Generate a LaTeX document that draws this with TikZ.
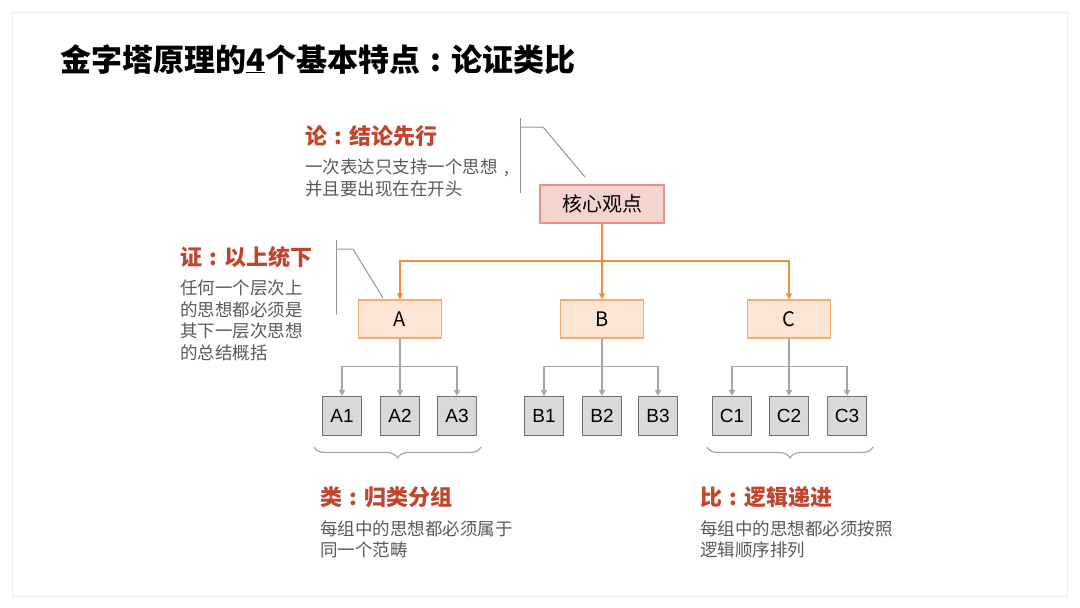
\documentclass[tikz,border=0pt]{standalone}
\usepackage{fontspec}
\setmainfont{Liberation Sans}
\newfontfamily\cjk{Noto Sans CJK SC}
\usetikzlibrary{positioning, arrows.meta, decorations.pathreplacing}
\definecolor{colorHead}{HTML}{C0452C}
\definecolor{colorBody}{HTML}{595959}
\definecolor{colorCoreFill}{HTML}{F5D4CF}
\definecolor{colorCoreLine}{HTML}{E8908A}
\definecolor{colorMidFill}{HTML}{FDE5D5}
\definecolor{colorMidLine}{HTML}{F8A96C}
\definecolor{colorOrange}{HTML}{F58B3D}
\definecolor{colorLeafFill}{HTML}{D9D9D9}
\definecolor{colorLeafLine}{HTML}{6E6E6E}
\definecolor{colorLink}{HTML}{A6A6A6}
\definecolor{colorFrame}{HTML}{EBEBEB}
% centred full-width punctuation
\newcommand\midcolon{\makebox[1em][c]{:}}
\newcommand\midcomma{\makebox[1em][c]{,}}

\tikzset{
  corebox/.style={draw=colorCoreLine, fill=colorCoreFill, line width=1.2pt, minimum width=124pt, minimum height=38pt, font=\cjk\fontsize{20}{24}\selectfont},
  midbox/.style={draw=colorMidLine, fill=colorMidFill, line width=1.2pt, minimum width=83pt, minimum height=38pt, font=\cjk\fontsize{20}{24}\selectfont},
  leafbox/.style={draw=colorLeafLine, fill=colorLeafFill, line width=1.2pt, minimum width=39pt, minimum height=39pt, inner sep=0pt, font=\fontsize{19}{23}\selectfont},
  headtext/.style={anchor=base west, inner sep=0pt, text=colorHead, font=\cjk\bfseries\fontsize{22}{26}\selectfont},
  bodytext/.style={anchor=north west, inner sep=0pt, align=left, text=colorBody, font=\cjk\fontsize{17.5}{21.5}\selectfont},
  orangelink/.style={draw=colorOrange, line width=1.2pt, -{Triangle[length=6pt,width=6pt]}},
  graylink/.style={draw=colorLink, line width=1.5pt, -{Triangle[length=6pt,width=6pt]}},
  noteline/.style={draw=colorLink!90!black, line width=1pt},
  groupbrace/.style={draw=colorLink, line width=1.2pt, decorate, decoration={brace, mirror, amplitude=11pt}},
}

\begin{document}
\begin{tikzpicture}[x=1pt, y=-1pt]
  \useasboundingbox (0,0) rectangle (1080,608);
  \draw[colorFrame, line width=1pt] (12,12) rectangle (1067,596);
  \node[anchor=base west, inner sep=0pt, font=\cjk\bfseries\fontsize{31}{35}\selectfont] (title) at (60,71) {金字塔原理的\underline{4}个基本特点\midcolon 论证类比};

  % the pyramid
  \node[corebox] (core) at (602,204) {核心观点};
  \node[midbox] (A) at (400,319) {A};
  \node[midbox] (B) at (602,319) {B};
  \node[midbox] (C) at (789,319) {C};
  \foreach \n/\x in {A1/342, A2/400, A3/457, B1/544, B2/602, B3/658, C1/732, C2/789, C3/847}
    \node[leafbox] (\n) at (\x,416) {\n};

  \coordinate (hub) at (602,261);
  \draw[orangelink] (core) -- (B);
  \draw[orangelink] (hub) -| (A.north);
  \draw[orangelink] (hub) -| (C.north);
  \foreach \g in {A,B,C}
    \foreach \i in {1,2,3}
      \draw[graylink] (\g.south) -- ++(0,28) -| (\g\i.north);

  % pointers and braces
  \draw[noteline] (520,118) -- (520,193);
  \draw[noteline] (520,127) -- (543,127) -- (585,177);
  \draw[noteline] (336,240) -- (336,315);
  \draw[noteline] (336,249) -- (353,249) -- (383,298);
  \draw[groupbrace] (314,447) -- (481,447);
  \draw[groupbrace] (707,447) -- (873,447);

  % the four rules
  \node[headtext] (lun) at (305,144) {论\midcolon 结论先行};
  \node[bodytext] (lunText) at (305,159) {一次表达只支持一个思想\midcomma\\并且要出现在在开头};
  \node[headtext] (zheng) at (180,265) {证\midcolon 以上统下};
  \node[bodytext] (zhengText) at (180,280) {任何一个层次上\\的思想都必须是\\其下一层次思想\\的总结概括};
  \node[headtext] (lei) at (320,505) {类\midcolon 归类分组};
  \node[bodytext] (leiText) at (320,520) {每组中的思想都必须属于\\同一个范畴};
  \node[headtext] (bi) at (700,505) {比\midcolon 逻辑递进};
  \node[bodytext] (biText) at (700,520) {每组中的思想都必须按照\\逻辑顺序排列};
\end{tikzpicture}
\end{document}
